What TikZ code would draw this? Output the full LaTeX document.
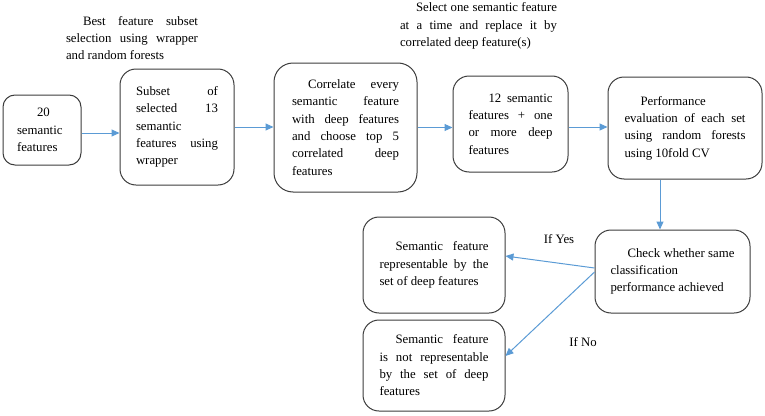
\documentclass[tikz,border=0pt]{standalone}
\usepackage{fontspec}
\setmainfont{Liberation Serif}
\usetikzlibrary{arrows.meta}
\definecolor{arrblue}{RGB}{91,155,213}
\definecolor{boxline}{RGB}{60,60,60}
\newcommand{\jtext}[2]{\parbox{#1pt}{\fontsize{12.8}{17.3}\selectfont #2}}
\begin{document}
\begin{tikzpicture}[x=1pt,y=-1pt,
  box/.style={draw=boxline, line width=1pt, rounded corners=16pt, inner sep=0pt},
  arr/.style={draw=arrblue, line width=1pt, -{Triangle[length=8pt,width=7pt]}},
  lbl/.style={inner sep=0pt, font=\fontsize{12.8}{17.3}\selectfont}]
\useasboundingbox (0,0) rectangle (765,415);

\node[box, rounded corners=12pt, minimum width=78pt, minimum height=70pt] (b1) at (42,130)
  {\jtext{50}{\hspace*{20pt}20\\semantic\\features}};
\node[box, minimum width=114pt, minimum height=116pt] (b2) at (177,127)
  {\jtext{82}{Subset of\linebreak selected 13\linebreak semantic\\features using\linebreak wrapper}};
\node[box, rounded corners=19pt, minimum width=143pt, minimum height=129pt] (b3) at (345.5,127.5)
  {\jtext{107}{\hspace*{16pt}Correlate every\linebreak semantic feature\linebreak with deep features\linebreak and choose top 5\linebreak correlated deep\linebreak features}};
\node[box, minimum width=115pt, minimum height=96pt] (b4) at (510.5,124)
  {\jtext{84}{\hspace*{20pt}12 semantic\linebreak features + one\linebreak or more deep\linebreak features}};
\node[box, minimum width=154pt, minimum height=102pt] (b5) at (685,128)
  {\jtext{121}{\hspace*{16pt}Performance\\evaluation of each set\linebreak using random forests\linebreak using 10fold CV}};
\node[box, minimum width=155pt, minimum height=83pt] (b6) at (672.5,271.5)
  {\jtext{124}{\hspace*{17pt}Check whether same\linebreak classification\\performance achieved}};
\node[box, minimum width=142pt, minimum height=96pt] (b7) at (434,265)
  {\jtext{109}{\hspace*{16pt}Semantic feature\linebreak representable by the\linebreak set of deep features}};
\node[box, minimum width=142pt, minimum height=91pt] (b8) at (434,365.5)
  {\jtext{109}{\hspace*{16pt}Semantic feature\linebreak is not representable\linebreak by the set of deep\linebreak features}};

\node[inner sep=0pt] (t1) at (132,38)
  {\jtext{132}{\hspace*{17pt}Best feature subset\linebreak selection using wrapper\linebreak and random forests}};
\node[inner sep=0pt] (t2) at (478.5,26)
  {\jtext{157}{\hspace*{16pt}Select one semantic feature\linebreak at a time and replace it by\linebreak correlated deep feature(s)}};

\node[lbl] (yes) at (559,239) {If Yes};
\node[lbl] (no) at (583,342) {If No};

\draw[arr] ([yshift=-3pt]b1.east) -- ([yshift=-3pt]b1.east -| b2.west);
\draw[arr] (b2.east) -- (b2.east -| b3.west);
\draw[arr] (b3.east) -- (b3.east -| b4.west);
\draw[arr] ([yshift=-3pt]b4.east) -- ([yshift=-3pt]b4.east -| b5.west);
\draw[arr] ([xshift=-25pt]b5.south) -- ([xshift=-25pt]b5.south |- b6.north);
\draw[arr] ([yshift=3.5pt]b6.west) -- ([yshift=9pt]b7.east);
\draw[arr] ([yshift=-0.5pt]b6.west) -- ([yshift=9.5pt]b8.east);
\end{tikzpicture}
\end{document}
